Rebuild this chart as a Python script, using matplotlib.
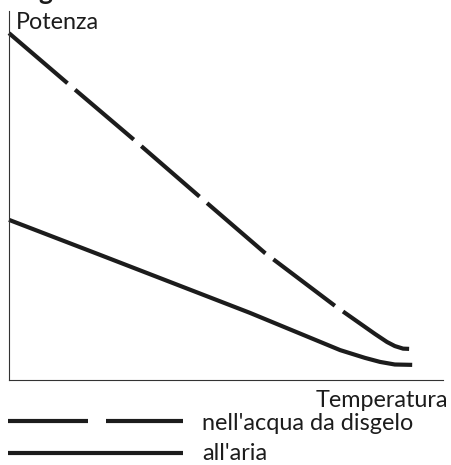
"""Potenza vs Temperatura: nell'acqua da disgelo / all'aria."""

import matplotlib

matplotlib.use("Agg")
import matplotlib.pyplot as plt
from matplotlib.lines import Line2D

# Values (arbitrary units, 0-100 on both axes)
temp_acqua = [0, 13.4, 28.6, 44.0, 59.0, 75.1, 79.7, 84.3, 87.1, 88.9, 90.8, 92.9]
pot_acqua = [94.0, 80.5, 65.3, 49.6, 34.4, 20.1, 16.3, 12.5, 10.3, 9.2, 8.5, 8.4]

temp_aria = [0, 21.0, 55.5, 76.3, 82.0, 85.5, 88.9, 92.9]
pot_aria = [43.4, 33.9, 18.2, 8.1, 6.0, 4.9, 4.2, 4.1]

labels = ["nell'acqua da disgelo", "all'aria"]
x_label = "Temperatura"
y_label = "Potenza"

W, H = 451, 465
INK = "#1c1c1c"
LW = 3.0  # points (~4 px)

plt.rcParams["font.family"] = ["Lato", "DejaVu Sans"]


def fx(px):
    return px / W


def fy(py):
    return 1 - py / H


fig = plt.figure(figsize=(W / 100, H / 100), dpi=100)
ax = fig.add_axes([fx(9), fy(380), fx(443) - fx(9), fy(11) - fy(380)])

dash_on, dash_off = 77 * 0.72 / LW, 10 * 0.72 / LW
ax.plot(temp_acqua, pot_acqua, color=INK, lw=LW,
        linestyle=(0, (dash_on, dash_off)), dash_capstyle="butt", clip_on=False)
ax.plot(temp_aria, pot_aria, color=INK, lw=LW,
        solid_capstyle="butt", clip_on=False)

ax.set_xlim(0, 100)
ax.set_ylim(0, 100)
ax.set_xticks([])
ax.set_yticks([])
for side in ("top", "right"):
    ax.spines[side].set_visible(False)
for side in ("left", "bottom"):
    ax.spines[side].set_linewidth(0.8)
    ax.spines[side].set_color("#333333")

txt = dict(color=INK, fontsize=16.8)
fig.text(fx(16), fy(29), y_label, ha="left", va="baseline", **txt)
fig.text(fx(448), fy(407), x_label, ha="right", va="baseline", **txt)

# cut-off title letter at the very top (only its descender is visible)
fig.text(fx(45.5), fy(0), "g", ha="center", va="baseline",
         fontsize=19, fontweight="bold", color=INK)

# hand-drawn legend below the axes
fig.add_artist(Line2D([fx(8), fx(183)], [fy(421), fy(421)], color=INK, lw=LW,
                      linestyle=(0, (80 * 0.72 / LW, 18 * 0.72 / LW)),
                      dash_capstyle="butt"))
fig.add_artist(Line2D([fx(8), fx(183)], [fy(453), fy(453)], color=INK, lw=LW,
                      solid_capstyle="butt"))
fig.text(fx(202), fy(430), labels[0], ha="left", va="baseline", **txt)
fig.text(fx(202), fy(460), labels[1], ha="left", va="baseline", **txt)

fig.savefig("out.png", dpi=100)
